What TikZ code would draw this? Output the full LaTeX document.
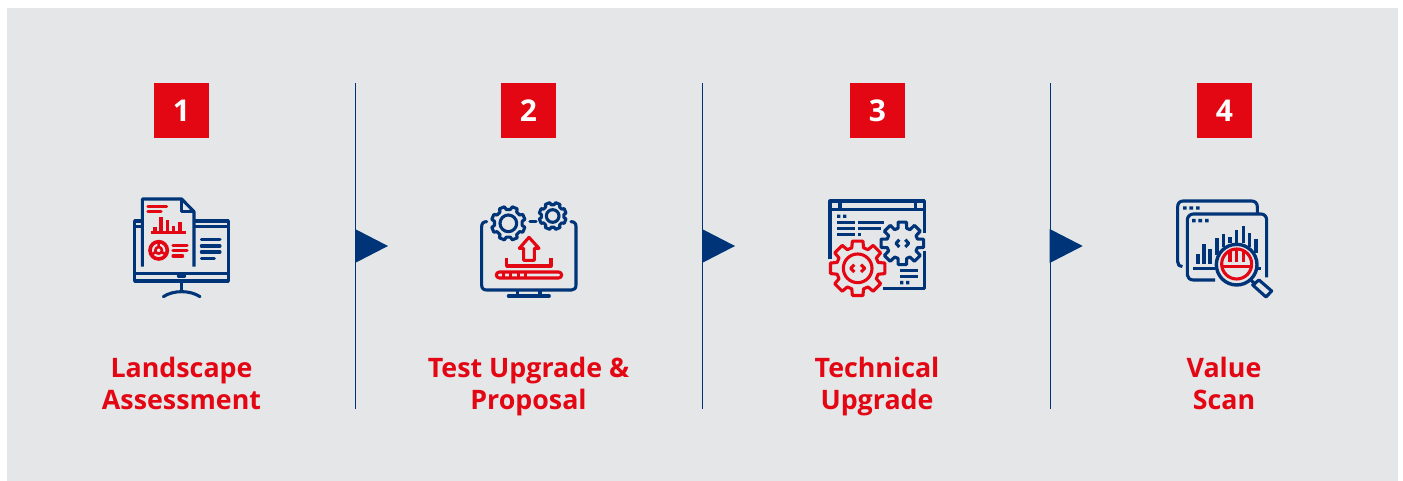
\documentclass[tikz,border=0pt]{standalone}
\usepackage{fontspec}
\setmainfont{Open Sans}
\definecolor{navy}{HTML}{003478}
\definecolor{brandred}{HTML}{E30613}
\definecolor{panel}{HTML}{E5E6E8}
\tikzset{
  px/.style={x=1pt,y=-1pt},
  zm/.style={x=0.3333pt,y=-0.3333pt},
  nv/.style={draw=navy,line width=3.1pt,line join=round,fill=none},
  rd/.style={draw=brandred,line width=3.1pt,line join=round,fill=none},
  numbox/.style={fill=brandred,text=white,minimum size=55pt,inner sep=0pt,font=\bfseries\fontsize{30}{32}\selectfont},
  steplabel/.style={text=brandred,align=center,inner sep=0pt,font=\bfseries\fontsize{26.8}{32}\selectfont},
  sep/.style={draw=navy,line width=1pt},
  tri/.style={fill=navy,draw=none},
}
% center x, center y, rout, rin, teeth, rotation, half-angle outer, half-angle base, style
\newcommand{\gearshape}[9]{%
  \begin{scope}[shift={(#1,#2)}]
    \draw[#9] (#6+#8:#4)
      \foreach \i in {1,...,#5}{
        -- (\i*360/#5+#6-#8:#4) -- (\i*360/#5+#6-#7:#3) -- (\i*360/#5+#6+#7:#3) -- (\i*360/#5+#6+#8:#4)
      } -- cycle;
  \end{scope}}
\begin{document}
\begin{tikzpicture}[px]
\useasboundingbox (0,0) rectangle (1403,481);
\fill[white] (0,0) rectangle (1403,481);
\fill[panel] (7,8) rectangle (1398,481);

% number boxes
\node[numbox] (n1) at (181.5,110.5) {1};
\node[numbox] (n2) at (528.5,110.5) {2};
\node[numbox] (n3) at (877.5,110.5) {3};
\node[numbox] (n4) at (1224.5,110.5) {4};

% labels
\node[steplabel] (l1) at (181.5,387) {\strut Landscape\\Assessment\strut};
\node[steplabel] (l2) at (528.5,387) {\strut Test Upgrade \&\\Proposal\strut};
\node[steplabel] (l3) at (877,387) {\strut Technical\\Upgrade\strut};
\node[steplabel] (l4) at (1224,387) {\strut Value\\Scan\strut};

% separators and triangles
\foreach \sx in {355.5,702.5,1050.2}{
  \draw[sep] (\sx,83) -- (\sx,409);
  \fill[tri] (\sx-0.5,229) -- (\sx+32.5,246) -- (\sx-0.5,263) -- cycle;
}

% icon 1
\begin{scope}[shift={(120,185)},zm]
  \draw[nv] (65,108) -- (44,108) -- (44,288) -- (325,288) -- (325,108) -- (225,108);
  \draw[nv] (44,125) -- (65,125) (225,125) -- (325,125);
  \draw[nv] (44,265) -- (325,265);
  \draw[nv] (184,288) -- (184,318);
  \draw[nv,line cap=round] (130,335) .. controls (160,315) and (210,315) .. (240,335);
  \draw[nv,line width=3.6pt,line cap=round] (176,273) -- (193,273);
  \draw[nv] (67,245) -- (67,42) -- (185,42) -- (222,80) -- (222,245);
  \draw[nv] (185,42) -- (185,80) -- (222,80);
  \draw[nv,line cap=round] (244,164) -- (300,164) (244,183) -- (300,183) (244,201) -- (300,201) (244,220) -- (283,220);
  \draw[rd,line cap=round] (84,65) -- (140,65) (84,80) -- (123,80);
  \draw[rd] (92,142) -- (197,142);
  \draw[rd,line width=3.2pt] (105,142) -- (105,125) (123,142) -- (123,97) (142,142) -- (142,105) (160,142) -- (160,122) (180,142) -- (180,110);
  \draw[rd,line width=3.6pt] (116,196) circle (26);
  \draw[rd,line width=2.6pt] (116,196) circle (10);
  \draw[rd,line width=2.6pt] (116,186) -- (116,169) (107,201) -- (92,210) (125,201) -- (140,210);
  \draw[rd,line cap=round] (159,182) -- (201,182) (159,197) -- (201,197) (159,213) -- (188,213);
\end{scope}

% icon 2
\begin{scope}[shift={(470,190)},zm]
  \draw[nv,line cap=round] (50,95) .. controls (40,95) and (35,100) .. (35,110) -- (35,285) .. controls (35,295) and (40,300) .. (50,300) -- (305,300) .. controls (313,300) and (318,295) .. (318,285) -- (318,110) .. controls (318,100) and (313,95) .. (303,95);
  \draw[nv,line cap=round] (180,95) -- (198,95);
  \draw[nv] (142,300) -- (142,318) (210,300) -- (210,318);
  \draw[nv,line cap=round] (115,318) -- (238,318);
  \gearshape{115}{100}{51}{42}{8}{22.5}{9}{14}{nv}
  \draw[nv] (115,100) circle (25);
  \gearshape{248}{78}{41}{34}{8}{22.5}{10}{15}{nv}
  \draw[nv] (248,78) circle (19);
  \draw[rd] (177,142) -- (207,175) -- (193,175) -- (193,211) -- (161,211) -- (161,175) -- (148,175) -- cycle;
  \draw[rd] (110,203) -- (110,228) -- (243,228) -- (243,203);
  \draw[rd,rounded corners=3pt] (79,246) rectangle (275,264);
  \draw[rd] (100,246) -- (100,264) (122,246) -- (122,264) (145,246) -- (145,264) (167,246) -- (167,264);
\end{scope}

% icon 3
\begin{scope}[shift={(815,190)},zm]
  \draw[nv] (45,208) -- (45,33) -- (328,33) -- (328,130);
  \draw[nv] (45,58) -- (328,58) (75,33) -- (75,58) (302,33) -- (302,58);
  \draw[nv] (328,183) -- (328,296) -- (205,296);
  \fill[navy] (66,74) rectangle (76,84) (84,74) rectangle (94,84) (255,273) rectangle (265,283) (273,273) rectangle (283,283);
  \draw[nv] (66,97) -- (120,97) (130,97) -- (207,97) (66,115) -- (120,115) (130,115) -- (198,115) (66,133) -- (120,133) (130,133) -- (138,133);
  \draw[nv] (255,241) -- (310,241) (255,259) -- (310,259);
  \gearshape{262}{160}{65}{47}{8}{0}{11}{16}{nv}
  \draw[nv] (253,149) -- (243,160) -- (253,171) (271,149) -- (281,160) -- (271,171);
  \gearshape{128}{235}{83}{64}{8}{0}{11}{16}{rd}
  \draw[rd] (128,235) circle (43);
  \draw[rd] (118,224) -- (107,235) -- (118,246) (138,224) -- (149,235) -- (138,246);
\end{scope}

% icon 4
\begin{scope}[shift={(1165,190)},zm]
  \draw[nv] (52,230) .. controls (43,230) and (38,224) .. (38,215) -- (38,50) .. controls (38,40) and (44,33) .. (55,33) -- (260,33) .. controls (270,33) and (277,40) .. (277,50) -- (277,70);
  \draw[nv] (150,270) -- (85,270) .. controls (75,270) and (67,263) .. (67,255) -- (67,90) .. controls (67,80) and (75,72) .. (85,72) -- (288,72) .. controls (298,72) and (305,80) .. (305,90) -- (305,262);
  \fill[navy] (54,49) rectangle (65,59) (73,49) rectangle (84,59) (93,49) rectangle (104,59) (81,87) rectangle (92,97) (100,87) rectangle (111,97) (120,87) rectangle (131,97);
  \draw[nv,line width=4pt] (98,222) -- (98,192) (117,222) -- (117,162) (136,222) -- (136,178);
  \draw[nv] (85,235) -- (150,235) (280,235) -- (288,235);
  \draw[nv] (156,195) -- (156,143) (175,172) -- (175,133) (195,160) -- (195,140) (215,160) -- (215,120) (235,160) -- (235,108) (254,172) -- (254,128) (273,188) -- (273,148);
  \draw[nv,line width=3.4pt] (215,224) circle (61);
  \draw[rd] (215,222) circle (45);
  \draw[rd] (172,230) -- (258,230);
  \draw[rd] (195,182) -- (195,215) (215,178) -- (215,215) (235,182) -- (235,215);
  \draw[nv] (258,270) -- (272,285);
  \draw[nv] (282,270) -- (320,303) -- (303,321) -- (263,285) -- cycle;
\end{scope}
\end{tikzpicture}
\end{document}
